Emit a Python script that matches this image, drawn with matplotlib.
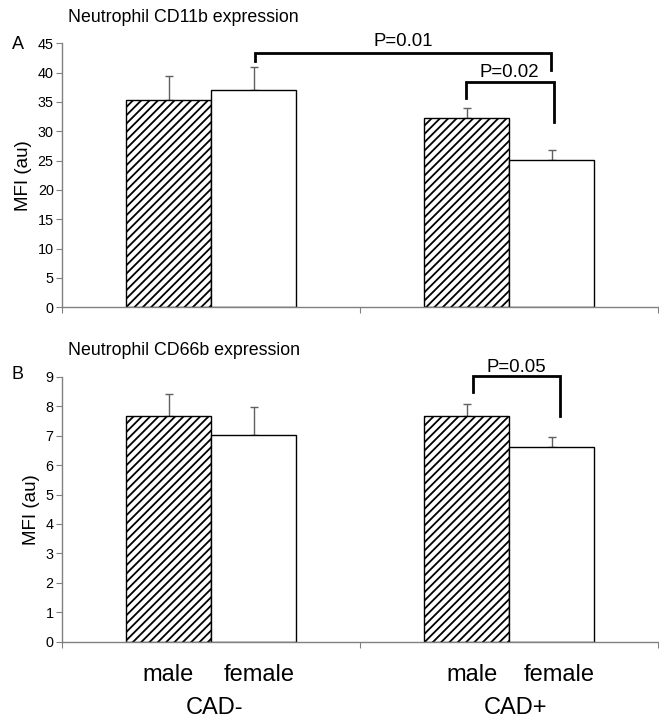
import matplotlib
matplotlib.use("Agg")
import matplotlib.pyplot as plt
import numpy as np

plt.rcParams["font.family"] = ["Liberation Sans", "DejaVu Sans"]
plt.rcParams["hatch.linewidth"] = 1.3

groups = ["CAD-", "CAD+"]
sexes = ["male", "female"]

# panel A: CD11b
cd11b_male = [35.4, 32.2]
cd11b_male_err = [4.0, 1.7]
cd11b_female = [37.0, 25.1]
cd11b_female_err = [3.9, 1.7]

# panel B: CD66b
cd66b_male = [7.68, 7.68]
cd66b_male_err = [0.74, 0.38]
cd66b_female = [7.03, 6.60]
cd66b_female_err = [0.95, 0.34]

W = 0.285
AXIS_COL = "#808080"
ERR_COL = "#606060"

fig = plt.figure(figsize=(6.59, 7.22), dpi=100)
axA = fig.add_axes([0.0941, 0.5744, 0.9047, 0.3657])
axB = fig.add_axes([0.0941, 0.1112, 0.9047, 0.3670])


def draw_panel(ax, male, male_err, female, female_err, ymax, ystep):
    x = np.arange(len(groups)) + 0.5
    ax.bar(x - W / 2, male, W, color="white", edgecolor="black", hatch="////", linewidth=1.0, zorder=2)
    ax.bar(x + W / 2, female, W, color="white", edgecolor="black", linewidth=1.0, zorder=2)
    ax.errorbar(x - W / 2, male, yerr=[np.zeros(len(male)), male_err], fmt="none",
                ecolor=ERR_COL, elinewidth=1.0, capsize=3, capthick=1.0, zorder=1)
    ax.errorbar(x + W / 2, female, yerr=[np.zeros(len(female)), female_err], fmt="none",
                ecolor=ERR_COL, elinewidth=1.0, capsize=3, capthick=1.0, zorder=1)
    ax.set_xlim(0, 2)
    ax.set_ylim(0, ymax)
    ax.set_yticks(np.arange(0, ymax + 0.01, ystep))
    ax.set_xticks([0, 1, 2])
    ax.set_xticklabels([])
    for s in ["top", "right"]:
        ax.spines[s].set_visible(False)
    for s in ["left", "bottom"]:
        ax.spines[s].set_color(AXIS_COL)
        ax.spines[s].set_linewidth(1.0)
    ax.tick_params(axis="both", direction="out", length=4, color=AXIS_COL, labelsize=10.4, pad=2)
    ax.set_ylabel("MFI (au)", fontsize=13.5, labelpad=4)


def bracket(ax, x0, x1, ytop, y0, y1, label, ty):
    ax.plot([x0, x0, x1, x1], [y0, ytop, ytop, y1], color="black", lw=2.0,
            clip_on=False, solid_joinstyle="miter", zorder=3)
    ax.text((x0 + x1) / 2, ty, label, ha="center", va="baseline", fontsize=13.4, clip_on=False)


draw_panel(axA, cd11b_male, cd11b_male_err, cd11b_female, cd11b_female_err, 45, 5)
draw_panel(axB, cd66b_male, cd66b_male_err, cd66b_female, cd66b_female_err, 9, 1)

bracket(axA, 0.648, 1.641, 43.3, 41.9, 40.5, "P=0.01", 44.5)
bracket(axA, 1.354, 1.649, 38.45, 35.6, 31.6, "P=0.02", 39.3)
bracket(axB, 1.378, 1.671, 9.03, 8.49, 7.68, "P=0.05", 9.17)

fig.text(0.103, 0.976, "Neutrophil CD11b expression", fontsize=12.8, va="center")
fig.text(0.018, 0.938, "A", fontsize=13, va="center")
fig.text(0.103, 0.515, "Neutrophil CD66b expression", fontsize=12.8, va="center")
fig.text(0.018, 0.481, "B", fontsize=13, va="center")

# category labels under panel B
male_lab_x = [0.355, 1.376]
female_lab_x = [0.661, 1.668]
group_lab_x = [0.510, 1.520]
for i, g in enumerate(groups):
    axB.text(male_lab_x[i], -1.33, sexes[0], ha="center", va="baseline", fontsize=17)
    axB.text(female_lab_x[i], -1.33, sexes[1], ha="center", va="baseline", fontsize=17)
    axB.text(group_lab_x[i], -2.45, g, ha="center", va="baseline", fontsize=17)

fig.savefig("out.png", dpi=100)
plt.close(fig)
